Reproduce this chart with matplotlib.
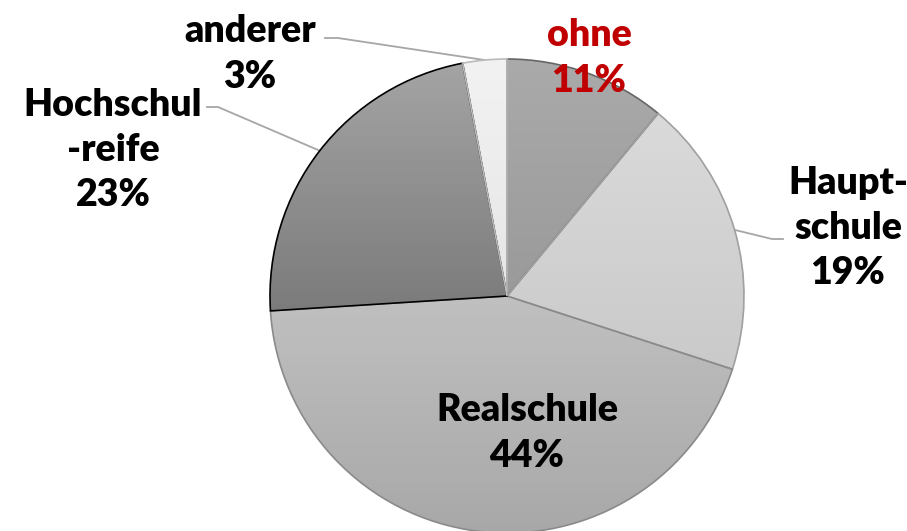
import numpy as np
import matplotlib
matplotlib.use("Agg")
import matplotlib.pyplot as plt

# Schulabschluss shares (clockwise from 12 o'clock)
labels = ["ohne", "Haupt-\nschule", "Realschule", "Hochschul\n-reife", "anderer"]
shares = [11, 19, 44, 23, 3]
pct_text = ["11%", "19%", "44%", "23%", "3%"]

# gradient top / bottom grey per slice
grad_top = ["#aaaaaa", "#dadada", "#c0c0c0", "#a4a4a4", "#f2f2f2"]
grad_bot = ["#9a9a9a", "#cacaca", "#a8a8a8", "#7b7b7b", "#e6e6e6"]
edge_cols = ["#666666", "#a0a0a0", "#8a8a8a", "#000000", "#bbbbbb"]
text_cols = ["#c00000", "black", "black", "black", "black"]

W, H = 907, 531
CX, CY, R = 507, H - 296, 237

fig = plt.figure(figsize=(W / 100, H / 100), dpi=100)
ax = fig.add_axes([0, 0, 1, 1])

wedges, _ = ax.pie(shares, startangle=90, counterclock=False,
                   center=(CX, CY), radius=R, frame=True,
                   wedgeprops=dict(linewidth=1.2))
ax.set_xlim(0, W)
ax.set_ylim(0, H)
ax.set_aspect("equal")
ax.axis("off")


def hex2rgb(h):
    return np.array(matplotlib.colors.to_rgb(h))


for w, top, bot, ec in zip(wedges, grad_top, grad_bot, edge_cols):
    w.set_facecolor("none")
    w.set_edgecolor(ec)
    w.set_zorder(3)
    bb = w.get_path().get_extents(w.get_patch_transform())
    t = np.linspace(0, 1, 256)[:, None]
    img = (1 - t) * hex2rgb(top) + t * hex2rgb(bot)
    img = img[:, None, :]
    im = ax.imshow(img, extent=(bb.x0, bb.x1, bb.y0, bb.y1), origin="upper",
                   aspect="auto", zorder=2, interpolation="bilinear")
    im.set_clip_path(w)

ax.set_xlim(0, W)
ax.set_ylim(0, H)

# label layout (pixel positions from top-left)
label_pos = [(589, 58), (848, 228), (527, 433), (113, 150), (250, 54)]
fs = 27
for lab, pct, (lx, ly), col in zip(labels, pct_text, label_pos, text_cols):
    ax.text(lx, H - ly, lab + "\n" + pct, ha="center", va="center",
            fontsize=fs, fontweight="heavy", family="Lato", color=col,
            linespacing=1.4, zorder=5)

# leader lines from slice mid-angle on the rim
cum = np.cumsum([0] + shares)
mids = {i: (cum[i] + cum[i + 1]) / 2 / 100 * 360 for i in range(len(shares))}
leaders = {4: [(338, 38), (325, 38)], 3: [(218, 107), (207, 107)], 1: [(772, 239), (783, 239)]}
for i, pts in leaders.items():
    a = np.deg2rad(mids[i])
    sx, sy = CX + R * np.sin(a), CY + R * np.cos(a)
    xs = [sx] + [p[0] for p in pts]
    ys = [sy] + [H - p[1] for p in pts]
    ax.plot(xs, ys, color="#a6a6a6", lw=1.3, zorder=1)

fig.savefig("out.png", dpi=100)
